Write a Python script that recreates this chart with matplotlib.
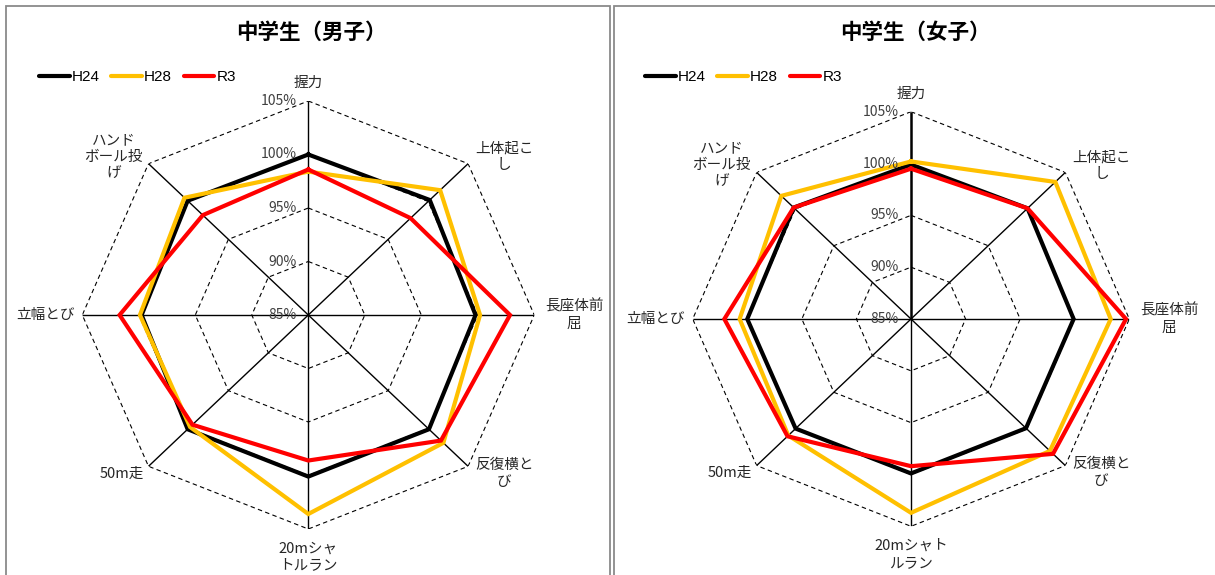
import numpy as np
import matplotlib
matplotlib.use("Agg")
import matplotlib.pyplot as plt
from matplotlib.patches import Rectangle
from matplotlib.lines import Line2D
import matplotlib.transforms as mtransforms

plt.rcParams['font.family'] = ['Noto Sans CJK JP', 'DejaVu Sans']

# ---------------- data ----------------
series_names = ["H24", "H28", "R3"]
series_colors = ["#000000", "#FFC000", "#FF0000"]

labels_boys = ["握力", "上体起こ\nし", "長座体前\n屈", "反復横と\nび", "20mシャ\nトルラン",
               "50m走", "立幅とび", "ハンド\nボール投\nげ"]
labels_girls = ["握力", "上体起こ\nし", "長座体前\n屈", "反復横と\nび", "20mシャト\nルラン",
                "50m走", "立幅とび", "ハンド\nボール投\nげ"]

boys_h24 = [100.0, 100.2, 99.8, 100.1, 100.1, 100.1, 99.75, 100.1]
boys_h28 = [98.4, 101.5, 100.2, 101.9, 103.6, 99.8, 99.9, 100.5]
boys_r3 = [98.6, 97.8, 102.85, 101.6, 98.6, 99.5, 101.7, 98.2]

girls_h24 = [99.9, 100.1, 99.9, 99.9, 99.9, 99.95, 100.0, 100.2]
girls_h28 = [100.2, 103.7, 103.3, 103.0, 103.7, 100.9, 100.7, 101.8]
girls_r3 = [99.5, 100.1, 104.7, 103.4, 99.2, 101.0, 102.1, 100.2]

grid_levels = [90, 95, 100, 105]
tick_levels = [85, 90, 95, 100, 105]
tick_labels = ["85%", "90%", "95%", "100%", "105%"]

titles = ["中学生（男子）", "中学生（女子）"]

# ---------------- figure ----------------
W, H = 1215, 575
fig = plt.figure(figsize=(W / 100, H / 100), dpi=100)
fig.patch.set_facecolor("white")

# panel borders
border_col = "#8a8a8a"
fig.patches.append(Rectangle((6 / W, -0.1), 604 / W, 1.1 - 6 / H, transform=fig.transFigure,
                             fill=False, ec=border_col, lw=1.3, clip_on=False))
fig.patches.append(Rectangle((614 / W, -0.1), 620 / W, 1.1 - 6 / H, transform=fig.transFigure,
                             fill=False, ec=border_col, lw=1.3, clip_on=False))

label_offsets = [(0, 18), (36, 7), (40, 0), (36, -7), (0, -28), (-27, -7), (-37, 0), (-35, 7)]


def radar(rect, labels, data, title, title_x, legend_x, thick_top=False):
    ax = fig.add_axes(rect, projection="polar")
    ax.set_theta_offset(np.pi / 2)
    ax.set_theta_direction(-1)
    ax.set_ylim(85, 105)
    ax.set_aspect("auto")
    ax.grid(False)
    ax.set_xticks([])
    ax.set_yticks([])
    ax.spines["polar"].set_visible(False)
    ax.patch.set_alpha(0)

    n = len(labels)
    angles = np.linspace(0, 2 * np.pi, n, endpoint=False)
    closed = np.concatenate([angles, angles[:1]])

    # dashed octagon grid
    for lev in grid_levels:
        ax.plot(closed, [lev] * (n + 1), color="black", lw=0.8, ls=(0, (4, 3)), zorder=1)
    # spokes
    for i, a in enumerate(angles):
        lw = 1.0
        if thick_top and i == 0:
            lw = 1.8
        ax.plot([a, a], [85, 105], color="black", lw=lw, zorder=1.5, solid_capstyle="butt")

    # series
    for vals, name, col in zip(data, series_names, series_colors):
        v = list(vals) + [vals[0]]
        ax.plot(closed, v, color=col, lw=3.0, label=name, zorder=3, solid_joinstyle="miter")

    # radial tick labels
    tr = mtransforms.offset_copy(ax.transData, fig=fig, x=-12, y=0, units="dots")
    for lev, lab in zip(tick_levels, tick_labels):
        ax.text(0, lev, lab, transform=tr, ha="right", va="center", fontsize=10,
                color="#404040", zorder=4)

    # category labels
    for a, lab, (dx, dy) in zip(angles, labels, label_offsets):
        trc = mtransforms.offset_copy(ax.transData, fig=fig, x=dx, y=dy, units="dots")
        ax.text(a, 105, lab, transform=trc, ha="center", va="center", fontsize=10.5,
                color="#262626", linespacing=1.25, multialignment="center", clip_on=False)

    fig.text(title_x / W, 1 - 32 / H, title, ha="center", va="center", fontsize=15.5,
             fontweight="bold", color="black")

    handles = [Line2D([], [], color=c, lw=3.0, solid_capstyle="round") for c in series_colors]
    fig.legend(handles, series_names, loc="center left",
               bbox_to_anchor=(legend_x / W, 1 - 77 / H), ncol=3, frameon=False,
               handlelength=2.0, handletextpad=0.15, columnspacing=0.75, borderpad=0,
               borderaxespad=0, prop={"family": ["Liberation Sans", "DejaVu Sans"], "size": 11})
    return ax


# boys: center (308.3, 315), rx 226, ry 214
radar([82.3 / W, (H - 529) / H, 452 / W, 428 / H], labels_boys,
      [boys_h24, boys_h28, boys_r3], titles[0], 311, 39)
# girls: center (911, 319), rx 218.3, ry 207.3
radar([692.7 / W, (H - 526.3) / H, 436.6 / W, 414.6 / H], labels_girls,
      [girls_h24, girls_h28, girls_r3], titles[1], 915, 645, thick_top=True)

fig.savefig("out.png", dpi=100)
